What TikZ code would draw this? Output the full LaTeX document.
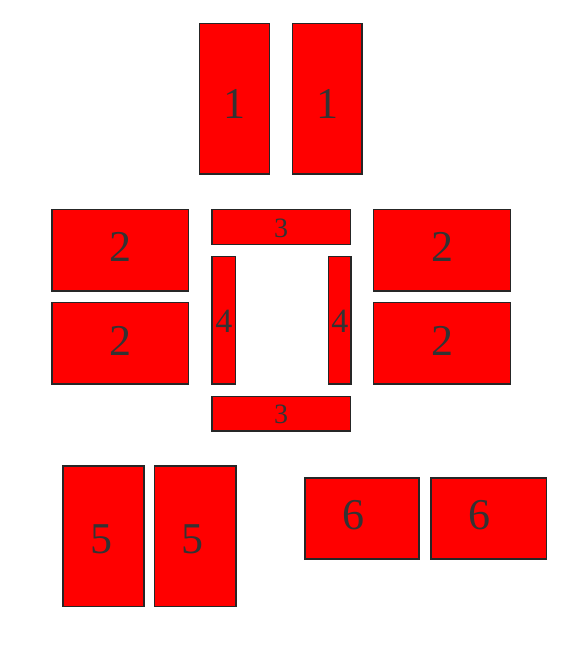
\documentclass[tikz,border=0pt]{standalone}
\usepackage{fontspec}
\setmainfont{Liberation Serif}
\begin{document}
\begin{tikzpicture}[x=1pt,y=-1pt,
  brick/.style={draw=black!85,line width=1.3pt,fill=red},
  lbl/.style={text=black!80,font=\fontsize{44}{44}\selectfont,inner sep=0pt},
  lblm/.style={text=black!80,font=\fontsize{34}{34}\selectfont,inner sep=0pt},
  lbls/.style={text=black!80,font=\fontsize{28}{28}\selectfont,inner sep=0pt}]
\useasboundingbox (0,0) rectangle (579,658);
% 1
\draw[brick] (199.5,23.5) rectangle (269.5,174);
\node[lbl] (t1a) at (234.5,104) {1};
\draw[brick] (292.5,23.5) rectangle (362,174);
\node[lbl] (t1b) at (327.5,104) {1};
% 2 left
\draw[brick] (52,209.5) rectangle (188.5,291);
\node[lbl] (t2a) at (120,247) {2};
\draw[brick] (52,302.5) rectangle (188.5,384);
\node[lbl] (t2b) at (120,341) {2};
% 2 right
\draw[brick] (373.5,209.5) rectangle (510.5,291);
\node[lbl] (t2c) at (442,247) {2};
\draw[brick] (373.5,302.5) rectangle (510.5,384);
\node[lbl] (t2d) at (442,341) {2};
% 3
\draw[brick] (212,209.5) rectangle (350.5,244.5);
\node[lbls] (t3a) at (281,228) {3};
\draw[brick] (212,396.5) rectangle (350.5,431);
\node[lbls] (t3b) at (281,414) {3};
% 4
\draw[brick] (212,256.5) rectangle (235.5,384);
\node[lblm] (t4a) at (223.8,321) {4};
\draw[brick] (328.5,256.5) rectangle (351,384);
\node[lblm] (t4b) at (339.8,321) {4};
% 5
\draw[brick] (63,466) rectangle (144,606.5);
\node[lbl] (t5a) at (101,539) {5};
\draw[brick] (154.5,466) rectangle (236,606.5);
\node[lbl] (t5b) at (192,539) {5};
% 6
\draw[brick] (305,478) rectangle (419,559);
\node[lbl] (t6a) at (353,515) {6};
\draw[brick] (431,478) rectangle (546.5,559);
\node[lbl] (t6b) at (479,515) {6};
\end{tikzpicture}
\end{document}
